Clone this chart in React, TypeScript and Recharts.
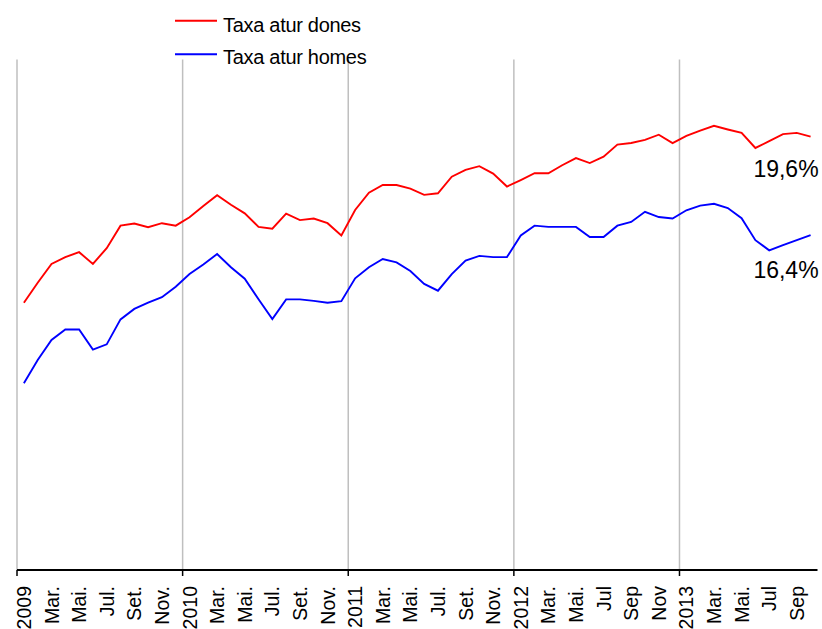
import React from "react";
import { LabelList, Line, LineChart, ReferenceLine, XAxis, YAxis } from "recharts";

// Monthly unemployment rates, Jan 2009 - Oct 2013
const dones = [
  14.21, 14.86, 15.47, 15.69, 15.85, 15.47, 15.98, 16.71, 16.78, 16.66, 16.79, 16.71,
  16.98, 17.35, 17.7, 17.39, 17.11, 16.67, 16.61, 17.1, 16.89, 16.94, 16.79, 16.39,
  17.22, 17.78, 18.03, 18.03, 17.91, 17.71, 17.76, 18.3, 18.52, 18.64, 18.4, 17.98,
  18.19, 18.41, 18.41, 18.67, 18.9, 18.74, 18.95, 19.34, 19.39, 19.49, 19.66, 19.39,
  19.62, 19.79, 19.95, 19.83, 19.72, 19.23, 19.45, 19.68, 19.72, 19.6
];

const homes = [
  11.6, 12.35, 13.0, 13.34, 13.34, 12.69, 12.86, 13.67, 14.01, 14.21, 14.39, 14.73,
  15.14, 15.45, 15.79, 15.36, 14.99, 14.32, 13.68, 14.32, 14.32, 14.27, 14.21, 14.26,
  15.0, 15.36, 15.63, 15.52, 15.24, 14.82, 14.6, 15.14, 15.58, 15.73, 15.69, 15.69,
  16.39, 16.71, 16.67, 16.67, 16.67, 16.34, 16.34, 16.71, 16.83, 17.16, 16.99, 16.94,
  17.21, 17.36, 17.42, 17.28, 16.95, 16.24, 15.91, 16.08, 16.24, 16.4
];

// one label every two months
const tickLabels = [
  "2009", "Mar.", "Mai.", "Jul.", "Set.", "Nov.",
  "2010", "Mar.", "Mai.", "Jul.", "Set.", "Nov.",
  "2011", "Mar.", "Mai.", "Jul.", "Set.", "Nov.",
  "2012", "Mar.", "Mai.", "Jul", "Sep", "Nov",
  "2013", "Mar.", "Mai.", "Jul", "Sep"
];

const yearBoundaries = [-0.5, 11.5, 23.5, 35.5, 47.5];

const data = dones.map((d, i) => ({ i, dones: d, homes: homes[i] }));
const lastIndex = data.length - 1;
const ticks = [...yearBoundaries, ...tickLabels.map((_, k) => k * 2)].sort((a, b) => a - b);

const font = "'Liberation Sans', Arial, sans-serif";

function pct(v: number) {
  return `${v.toFixed(1).replace(".", ",")}%`;
}

function MonthTick(props: any) {
  const { x, y, payload } = props;
  const v = payload.value as number;
  if (!Number.isInteger(v)) {
    return <line x1={x} x2={x} y1={y} y2={y + 6} stroke="#000" strokeWidth={1.5} />;
  }
  return (
    <g transform={`translate(${x},${y})`}>
      <text
        transform="rotate(-90)"
        x={-16}
        y={0}
        dy="0.36em"
        textAnchor="end"
        fontSize={19.5}
        fontFamily={font}
        fill="#000"
      >
        {tickLabels[v / 2]}
      </text>
    </g>
  );
}

function endLabel(offset: number) {
  return (props: any) => {
    const { x, y, value, index } = props;
    if (index !== lastIndex) return null;
    return (
      <text x={x + 8} y={y + offset} textAnchor="end" fontSize={23} fontFamily={font} fill="#000">
        {pct(Number(value))}
      </text>
    );
  };
}

export default function App() {
  return (
    <div style={{ position: "absolute", left: 0, top: 0, width: 822, height: 629, background: "#fff" }}>
      <LineChart width={822} height={629} data={data} margin={{ top: 59.5, right: 4.5, bottom: 0, left: 17 }}>
        <XAxis
          dataKey="i"
          type="number"
          domain={[-0.5, 57.5]}
          allowDataOverflow
          ticks={ticks}
          interval={0}
          tick={<MonthTick />}
          tickLine={false}
          tickSize={0}
          tickMargin={0}
          height={59}
          axisLine={{ stroke: "#000", strokeWidth: 2 }}
        />
        <YAxis hide domain={[5.54, 22.1]} allowDataOverflow />
        {yearBoundaries.map((b) => (
          <ReferenceLine key={b} x={b} stroke="#bfbfbf" strokeWidth={1.5} />
        ))}
        <Line
          type="linear"
          dataKey="dones"
          stroke="#ff0000"
          strokeWidth={1.9}
          dot={false}
          isAnimationActive={false}
        >
          <LabelList dataKey="dones" content={endLabel(40)} />
        </Line>
        <Line
          type="linear"
          dataKey="homes"
          stroke="#0000ff"
          strokeWidth={1.9}
          dot={false}
          isAnimationActive={false}
        >
          <LabelList dataKey="homes" content={endLabel(43)} />
        </Line>
      </LineChart>
      <svg width={822} height={80} style={{ position: "absolute", left: 0, top: 0, pointerEvents: "none" }}>
        <line x1={175} x2={217} y1={20.7} y2={20.7} stroke="#ff0000" strokeWidth={2} />
        <text x={223} y={31.5} fontSize={20} letterSpacing={-0.3} fontFamily={font} fill="#000">
          Taxa atur dones
        </text>
        <line x1={175} x2={217} y1={54.3} y2={54.3} stroke="#0000ff" strokeWidth={2} />
        <text x={223} y={64} fontSize={20} letterSpacing={-0.3} fontFamily={font} fill="#000">
          Taxa atur homes
        </text>
      </svg>
    </div>
  );
}
